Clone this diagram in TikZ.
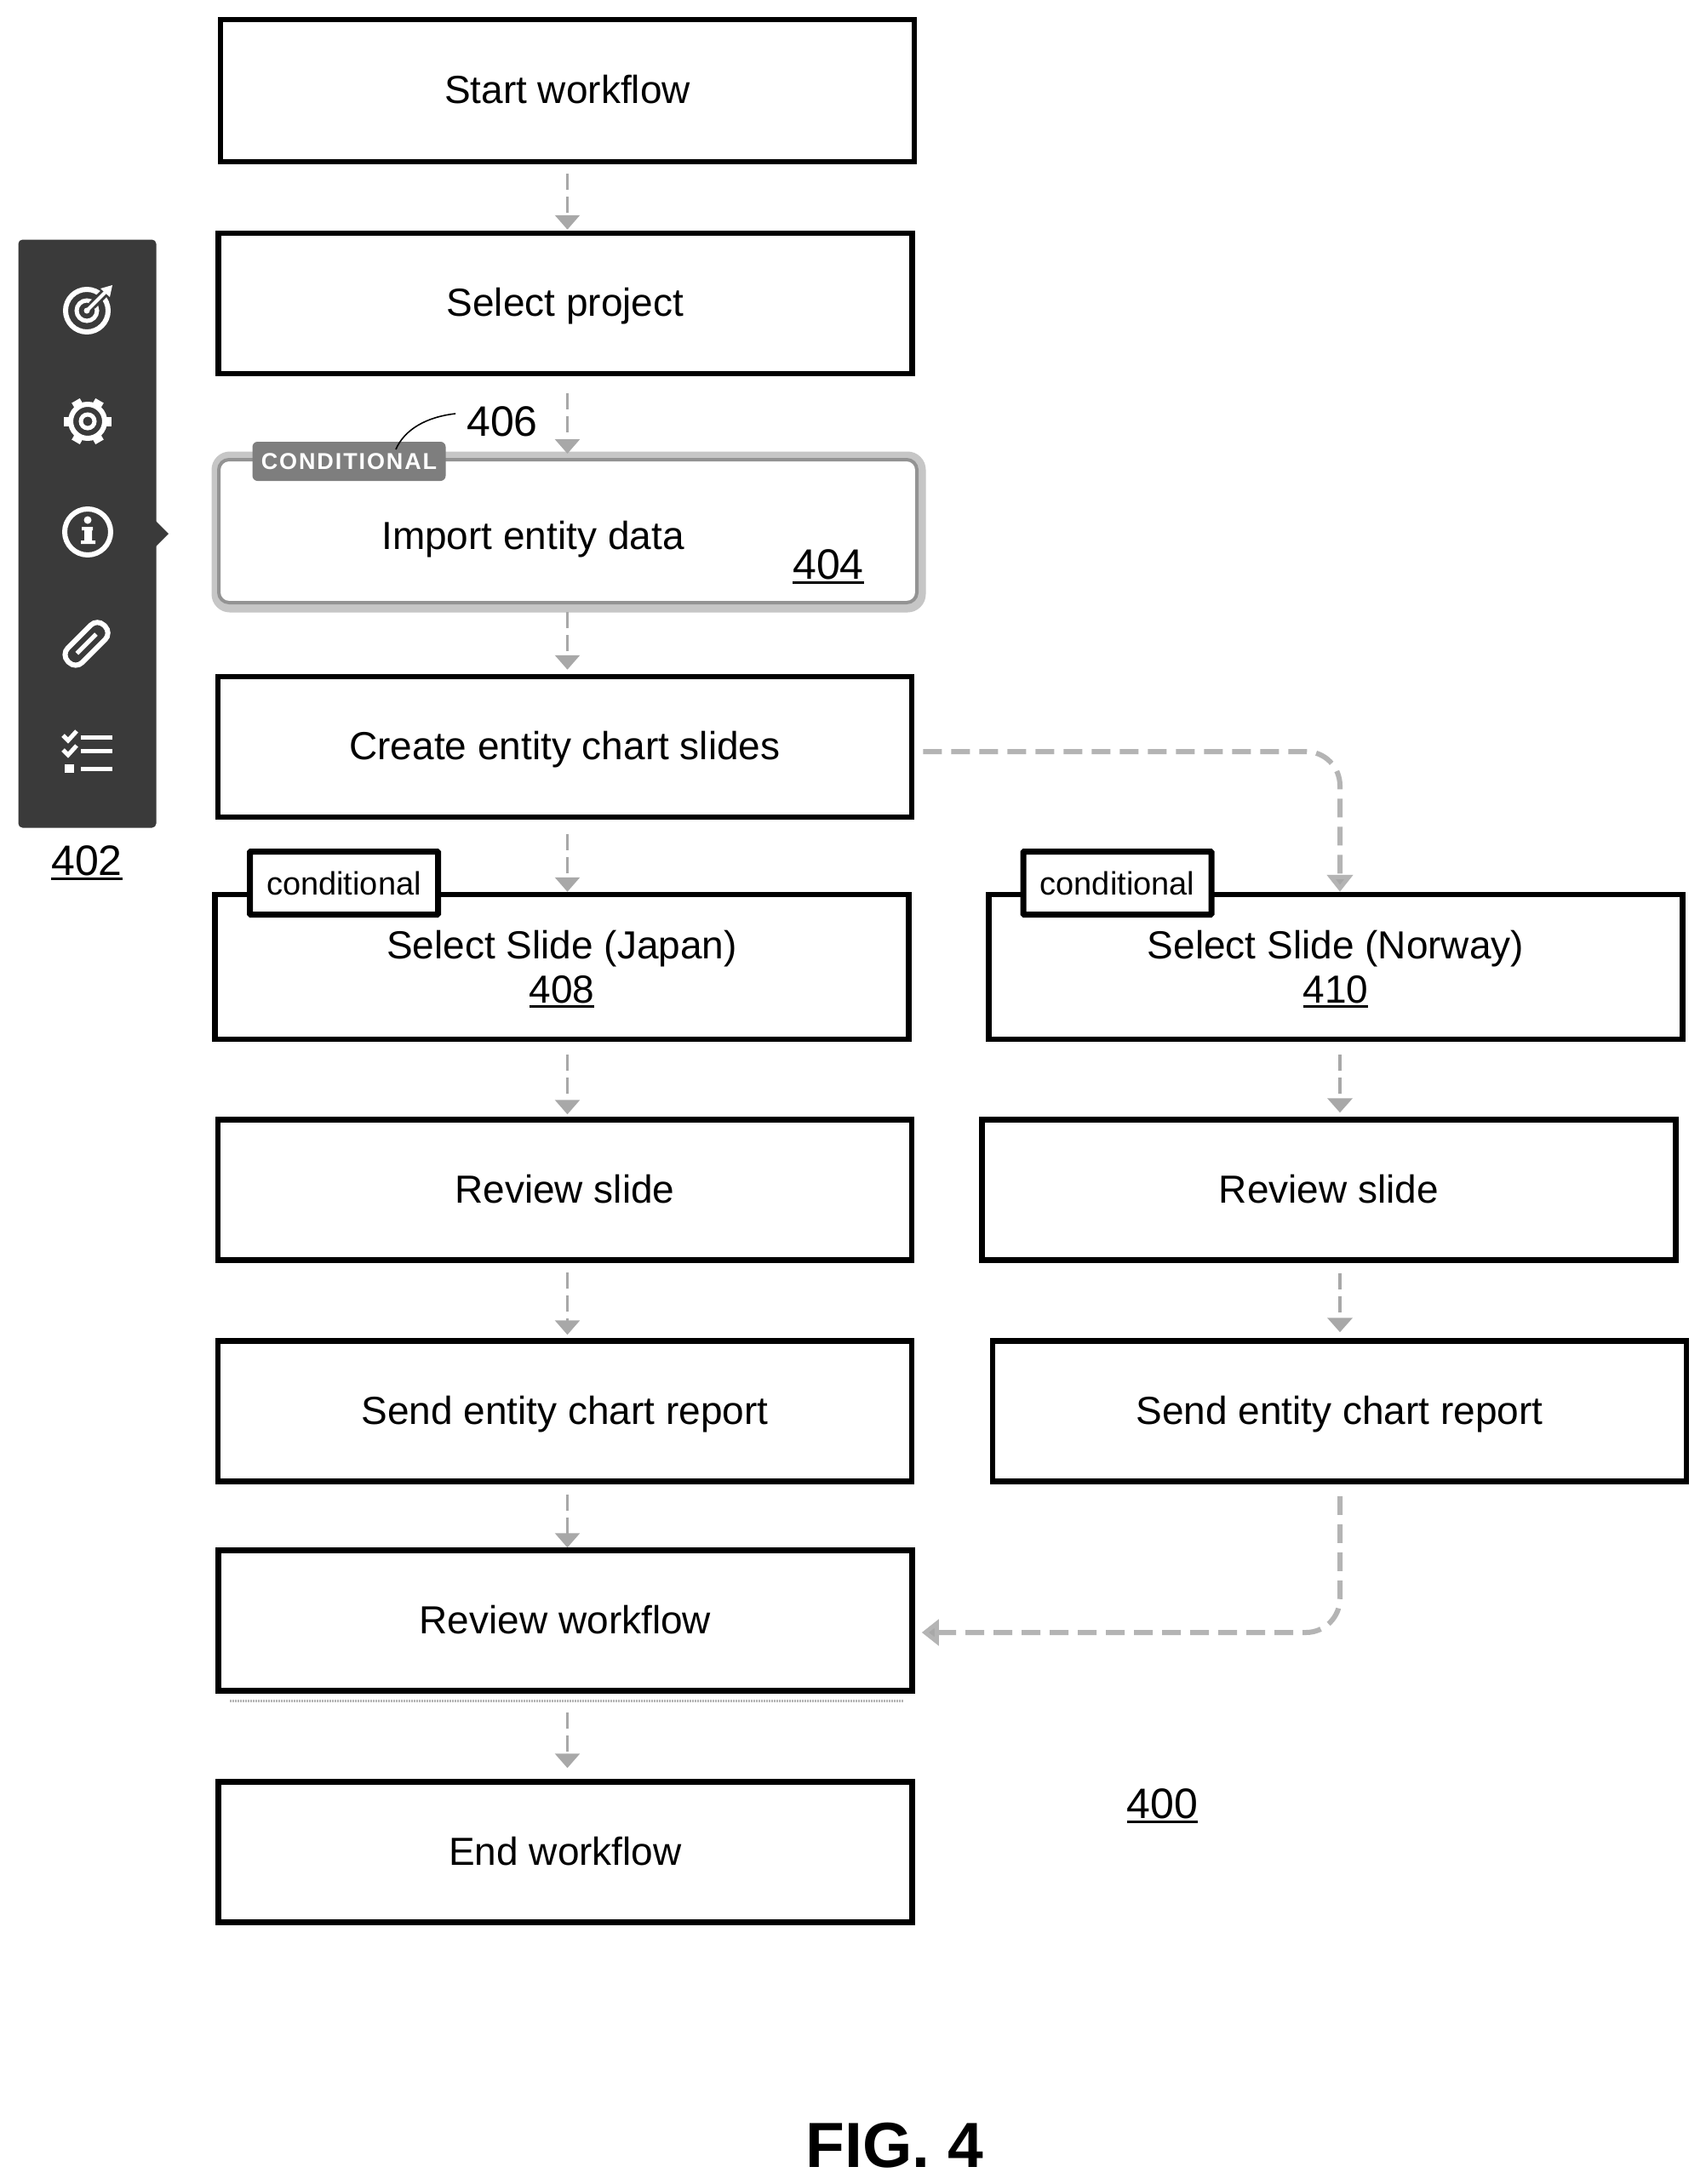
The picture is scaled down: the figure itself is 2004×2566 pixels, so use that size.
\documentclass[tikz,border=0pt]{standalone}
\usepackage{fontspec}
\setmainfont{Liberation Sans}
\usetikzlibrary{arrows.meta}
\definecolor{flowgray}{HTML}{A8A8A8}
\definecolor{flowlight}{HTML}{B4B4B4}
\definecolor{glowgray}{HTML}{C6C6C6}
\definecolor{darkbar}{HTML}{3A3A3A}
\definecolor{tagray}{HTML}{7E7E7E}
\newcommand{\refnum}[1]{{\setbox0=\hbox{#1}\rlap{\rule[-6pt]{\wd0}{3.5pt}}\box0}}
\newcommand{\firstline}{\rule{0pt}{38pt}}
\tikzset{
  stepbox/.style={draw=black,line width=6.5pt,fill=white,minimum width=815pt,minimum height=165pt,inner sep=0pt,align=center,font=\fontsize{46}{52}\selectfont},
  stepline/.style={stepbox,text height=30pt,text depth=0pt},
  slidebox/.style={stepbox,minimum height=170pt},
  txt/.style={inner sep=0pt,font=\fontsize{46}{52}\selectfont},
  num/.style={inner sep=0pt,font=\fontsize{50}{56}\selectfont},
  condtag/.style={draw=black,line width=7pt,fill=white,minimum width=221pt,minimum height=74pt,inner sep=0pt,rounded corners=1pt,font=\fontsize{38}{44}\selectfont},
  flow/.style={draw=flowgray,line width=2.8pt,dash pattern=on 19pt off 8pt,-{Triangle[width=29pt,length=17pt,fill=flowgray]}},
  flowb/.style={draw=flowlight,line width=6pt,dash pattern=on 22pt off 11pt,rounded corners=40pt,-{Triangle[width=30pt,length=20pt,fill=flowgray]}},
  ico/.style={draw=white,line width=5pt,fill=none},
}
\begin{document}
\begin{tikzpicture}[x=1pt,y=-1pt]
\useasboundingbox (0,0) rectangle (2004,2566);
\fill[white] (0,0) rectangle (2004,2566);
\coordinate (axis) at (666.5,0);
\coordinate (axisr) at (1574,0);
\coordinate (branch) at (1574,883);
\coordinate (ret) at (1574,1918);

\node[stepline,minimum height=167pt] (start) at (666.5,106.5) {Start workflow};
\node[stepline] (select) at (664,356.5) {Select project};
\node[draw=glowgray,line width=11pt,rounded corners=16pt,minimum width=828pt,minimum height=178pt,inner sep=0pt] (importglow) at (668,625) {};
\node[draw=gray!85,line width=4pt,rounded corners=12pt,fill=white,minimum width=820pt,minimum height=168pt,inner sep=0pt] (import) at (667,624) {};
\node[txt] (importtxt) at (626,634) {Import entity data};
\node[num] (n404) at (973,666) {\refnum{404}};
\node[stepline] (create) at (663.5,877.5) {Create entity chart slides};
\node[slidebox] (japan) at (660,1136) {\firstline Select Slide (Japan)\\\refnum{408}};
\node[slidebox] (norway) at (1569,1136) {\firstline Select Slide (Norway)\\\refnum{410}};
\node[condtag] (tagl) at (404,1037.5) {conditional};
\node[condtag] (tagr) at (1312.5,1037.5) {conditional};
\node[stepline] (revl) at (663.5,1398) {Review slide};
\node[stepline] (revr) at (1561,1398) {Review slide};
\node[stepline] (sendl) at (663.5,1658) {Send entity chart report};
\node[stepline] (sendr) at (1573.5,1658) {Send entity chart report};
\node[stepline] (revw) at (664,1904) {Review workflow};
\node[stepline] (endw) at (664,2176) {End workflow};
\draw[flowlight,line width=3pt,dash pattern=on 2pt off 1pt] ([xshift=17pt,yshift=-9pt]revw.south west) -- ([xshift=-13pt,yshift=-9pt]revw.south east);

% conditional tag on import
\node[fill=tagray,rounded corners=6pt,minimum width=227pt,minimum height=46pt,inner sep=0pt,text=white,font=\fontsize{27}{30}\bfseries\addfontfeature{LetterSpace=7}\selectfont] (ctag) at (410,542) {CONDITIONAL};
\node[num] (n406) at (590,495) {406};
\draw[line width=1.6pt] (n406.west) ++(-13,-9) coordinate (lead) .. controls (500,490) and (475,505) .. (465,528);

% flow connectors
\draw[flow,shorten <=11pt,shorten >=1pt] (start.south -| axis) -- (select.north -| axis);
\draw[flow,shorten <=20pt,shorten >=5pt] (select.south -| axis) -- (import.north -| axis);
\draw[flow,shorten <=9pt,shorten >=5pt] (import.south -| axis) -- (create.north -| axis);
\draw[flow,shorten <=17pt,shorten >=0pt] (create.south -| axis) -- (japan.north -| axis);
\draw[flow,shorten <=15pt,shorten >=3pt] (japan.south -| axis) -- (revl.north -| axis);
\draw[flow,shorten <=11pt,shorten >=4pt] (revl.south -| axis) -- (sendl.north -| axis);
\draw[flow,shorten <=12pt,shorten >=0pt] (sendl.south -| axis) -- (revw.north -| axis);
\draw[flow,shorten <=22pt,shorten >=13pt] (revw.south -| axis) -- (endw.north -| axis);
\draw[flow,line width=4pt,shorten <=15pt,shorten >=5pt] (norway.south -| axisr) -- (revr.north -| axisr);
\draw[flow,line width=4pt,shorten <=12pt,shorten >=7pt] (revr.south -| axisr) -- (sendr.north -| axisr);
\draw[flowb,shorten <=10pt,shorten >=0pt] (create.east |- branch) -- (branch) -- (norway.north -| branch);
\draw[flowb,shorten <=14pt,shorten >=8pt] (sendr.south -| ret) -- (ret) -- (revw.east |- ret);

% side bar
\node[fill=darkbar,rounded corners=5pt,minimum width=162pt,minimum height=691pt,inner sep=0pt] (bar) at (102.5,627) {};
\fill[darkbar] (183,612) -- (198,627) -- (183,642) -- cycle;
\node[num] (n402) at (102,1014) {\refnum{402}};
% target icon
\draw[ico,line width=6pt] (102,365) circle (25);
\draw[ico] (102,365) circle (12);
\fill[white] (102,365) circle (3.5);
\draw[darkbar,line width=10pt] (108,359) -- (132,335);
\draw[white,line width=4pt] (102,365) -- (124,343);
\fill[white] (118,339) -- (132,335) -- (129,349) -- cycle;
% gear icon
\draw[ico,line width=6pt] (103,495) circle (20);
\foreach \a in {0,60,...,300}{\draw[white,line width=11pt] (103,495) ++(\a:19) -- ++(\a:9);}
\draw[ico] (103,495) circle (8);
% info icon
\draw[ico,line width=6pt] (103,625) circle (27);
\fill[white] (103,611) circle (4.5);
\fill[white] (96,619) rectangle (109,623) (99,619) rectangle (108,637) (95,635) rectangle (112,639);
% clip icon
\begin{scope}[shift={(103,755)},rotate=45]
\draw[ico,line width=6pt,rounded corners=11pt] (-32,-12) rectangle (28,12);
\draw[ico] (-18,0) -- (14,0);
\end{scope}
% checklist icon
\foreach \yy in {866,882,903}{\draw[white,line width=5pt] (95,\yy) -- (132,\yy);}
\draw[white,line width=5pt] (74,864) -- (80,870) -- (90,859);
\draw[white,line width=5pt] (74,881) -- (80,887) -- (90,876);
\fill[white] (76,898) rectangle (87,908);

\node[num] (n400) at (1365.5,2122) {\refnum{400}};
\node[inner sep=0pt,font=\fontsize{75}{80}\bfseries\selectfont] (fig) at (1051,2521) {FIG. 4};
\end{tikzpicture}
\end{document}
